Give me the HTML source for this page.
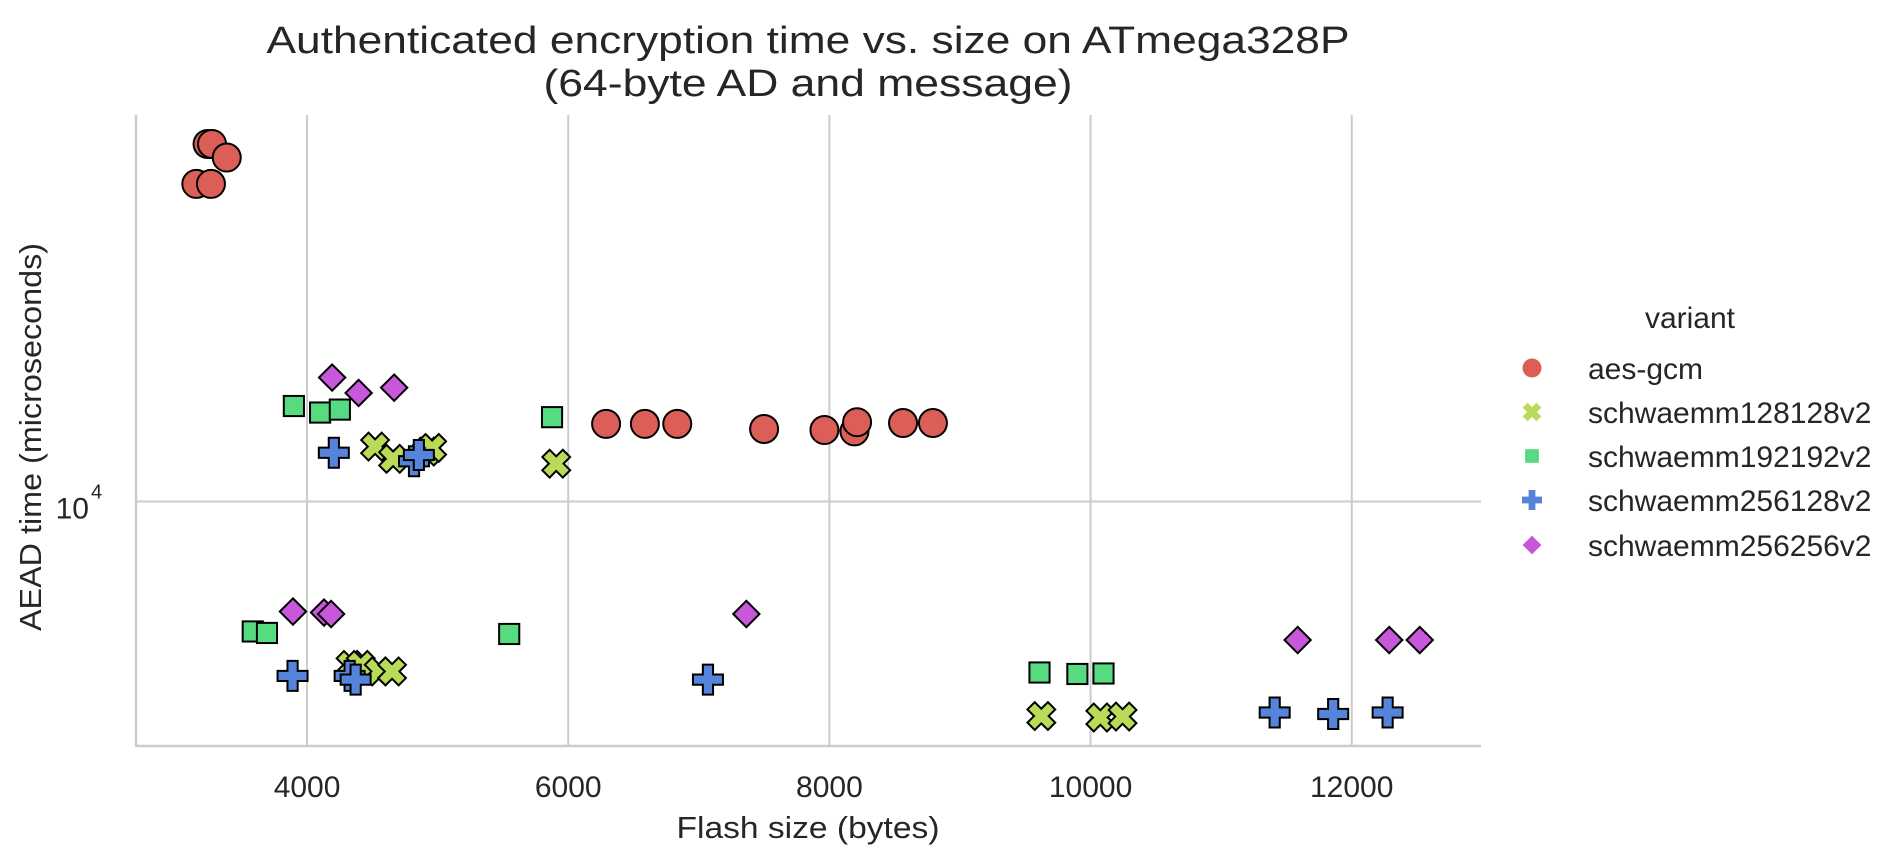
<!DOCTYPE html>
<html><head><meta charset="utf-8"><style>
html,body{margin:0;padding:0;background:#fff;}
svg{display:block;font-family:"Liberation Sans",Arial,sans-serif;}
</style></head><body>
<svg id="chart" width="1903" height="865" viewBox="0 0 1903 865">
<g id="grid"></g>
<g id="axes"></g>
<g id="marks"></g>
<text x="808" y="53" font-size="38" fill="#262626" text-anchor="middle" textLength="1083" lengthAdjust="spacingAndGlyphs">Authenticated encryption time vs. size on ATmega328P</text>
<text x="808" y="96" font-size="38" fill="#262626" text-anchor="middle" textLength="529" lengthAdjust="spacingAndGlyphs">(64-byte AD and message)</text>
<text x="808" y="838" font-size="31" fill="#262626" text-anchor="middle" textLength="263" lengthAdjust="spacingAndGlyphs">Flash size (bytes)</text>
<text transform="translate(41,437) rotate(-90)" font-size="31" fill="#262626" text-anchor="middle" textLength="388" lengthAdjust="spacingAndGlyphs">AEAD time (microseconds)</text>
<g id="legend">
<text x="1690" y="328" font-size="30" fill="#262626" text-anchor="middle">variant</text>
</g>
</svg>
<script>
const categories = ["aes-gcm","schwaemm128128v2","schwaemm192192v2","schwaemm256128v2","schwaemm256256v2"];
const xTicks = [4000,6000,8000,10000,12000];
const yTicks = [10000];
const aesX = [3238,3272,3385,3152,3264,6290,6587,6835,7500,7962,8192,8212,8564,8793];
const aesY = [23970,23970,23190,21740,21740,12090,12090,12090,11940,11910,11870,12140,12116,12116];
const s128X = [4521,4659,4920,4958,5908,4333,4411,4549,4651,9623,10075,10245];
const s128Y = [11437,11100,11300,11400,10970,6706,6706,6600,6600,5918,5897,5911];
const s192X = [3899,4100,4251,5876,3584,3693,5548,9609,9899,10099];
const s192Y = [12630,12430,12520,12290,7278,7251,7233,6583,6559,6567];
const s256_128X = [4205,4819,4856,3889,4326,4372,7070,11410,11858,12275];
const s256_128Y = [11266,11035,11205,6528,6528,6469,6469,5970,5948,5970];
const s256X = [4192,4395,4667,3892,4130,4184,7364,11586,12287,12521];
const s256Y = [13540,13040,13210,7641,7622,7595,7595,7127,7127,7127];

const NS="http://www.w3.org/2000/svg";
const X0=136,X1=1481,Y0=115,Y1=746;
const xMin=2690,xMax=12990,yMin=5500,yMax=25730;
function sx(v){return X0+(v-xMin)/(xMax-xMin)*(X1-X0);}
function sy(v){return Y1-(Math.log10(v)-Math.log10(yMin))/(Math.log10(yMax)-Math.log10(yMin))*(Y1-Y0);}
function mk(tag,attrs,parent){const e=document.createElementNS(NS,tag);for(const k in attrs)e.setAttribute(k,attrs[k]);parent.appendChild(e);return e;}
const grid=document.getElementById('grid'),axes=document.getElementById('axes'),marks=document.getElementById('marks'),legend=document.getElementById('legend');
xTicks.forEach(t=>{
  const l=mk('line',{x1:sx(t),x2:sx(t),y1:Y0,y2:Y1,stroke:'#cccccc','stroke-width':2},grid);
  
  
  const tx=mk('text',{x:sx(t),y:797,'font-size':30,fill:'#262626','text-anchor':'middle'},axes);
  tx.textContent=t;
  
  
});
yTicks.forEach(t=>{
  const l=mk('line',{x1:X0,x2:X1,y1:sy(t),y2:sy(t),stroke:'#cccccc','stroke-width':2},grid);
  
  
  const g=mk('text',{x:89,y:sy(t)+17,'font-size':30,fill:'#262626','text-anchor':'end'},axes);
  g.textContent='10';
  
  
  const s=mk('text',{x:91,y:sy(t)-3,'font-size':20,fill:'#262626'},axes);
  s.textContent=String(Math.round(Math.log10(t)));
  
  
});
const sl=mk('line',{x1:X0,x2:X0,y1:Y0,y2:Y1+1,stroke:'#cccccc','stroke-width':2.5},axes);


const sb=mk('line',{x1:X0-1,x2:X1,y1:Y1,y2:Y1,stroke:'#cccccc','stroke-width':2.5},axes);



const colors=['#db5f57','#b9db57','#57db80','#5784db','#c957db'];
function shape(type,cx,cy,s,parent,fill,stroke){
  let e;
  if(type===0) e=mk('circle',{cx,cy,r:s*0.5},parent);
  else if(type===2) e=mk('rect',{x:cx-s*0.36,y:cy-s*0.36,width:s*0.72,height:s*0.72},parent);
  else if(type===4){const r=s*0.47;e=mk('polygon',{points:`${cx},${cy-r} ${cx+r},${cy} ${cx},${cy+r} ${cx-r},${cy}`},parent);}
  else if(type===3){const a=s*0.5,w=s*0.17;e=mk('polygon',{points:[[-w,-a],[w,-a],[w,-w],[a,-w],[a,w],[w,w],[w,a],[-w,a],[-w,w],[-a,w],[-a,-w],[-w,-w]].map(p=>(cx+p[0])+','+(cy+p[1])).join(' ')},parent);}
  else {const a=s*0.42,w=s*0.15;const pts=[[-w,-a],[w,-a],[w,-w],[a,-w],[a,w],[w,w],[w,a],[-w,a],[-w,w],[-a,w],[-a,-w],[-w,-w]];
    e=mk('polygon',{points:pts.map(p=>{const x=(p[0]-p[1])*0.7071*1.15,y=(p[0]+p[1])*0.7071*1.15;return (cx+x)+','+(cy+y);}).join(' ')},parent);}
  e.setAttribute('fill',fill);
  if(stroke){e.setAttribute('stroke',stroke);e.setAttribute('stroke-width',2);e.setAttribute('stroke-linejoin','miter');}
  return e;
}
const series=[[aesX,aesY],[s128X,s128Y],[s192X,s192Y],[s256_128X,s256_128Y],[s256X,s256Y]];
const sizes=[28,30,28,30,28];
series.forEach((sr,i)=>{
  sr[0].forEach((xv,j)=>{
    const e=shape(i,sx(xv),sy(sr[1][j]),sizes[i],marks,colors[i],'#000');
    
    
  });
});
const legY=[368,412,456,500,545];
categories.forEach((c,i)=>{
  const e=shape(i,1532,legY[i],i===0?19:i===2?19:20,legend,colors[i],null);
  
  
  const t=mk('text',{x:1588,y:legY[i]+11,'font-size':30,fill:'#262626'},legend);
  t.textContent=c;
  
  
});
</script>
</body></html>
